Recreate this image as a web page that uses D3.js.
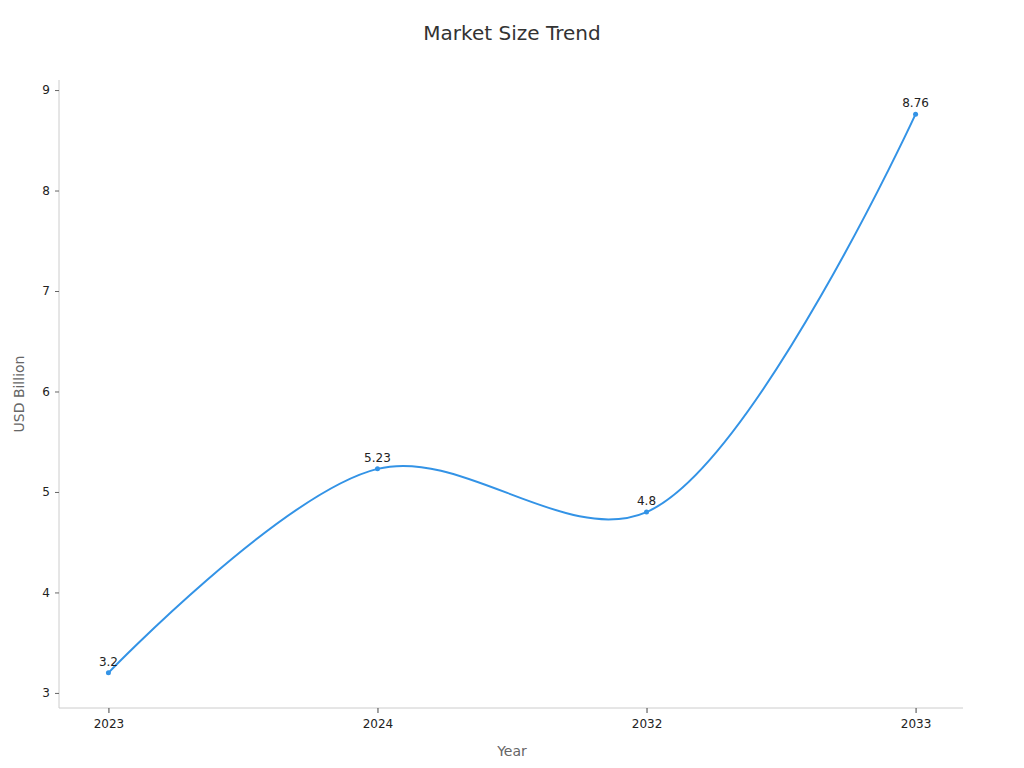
<!DOCTYPE html>
<html><head><meta charset="utf-8">
<script src="https://cdn.jsdelivr.net/npm/d3@7"></script>
<style>body{margin:0;background:#fff;} text{font-family:"DejaVu Sans",sans-serif;}</style>
</head><body>
<svg id="chart" width="1024" height="768"></svg>
<script>
const categories = ["2023", "2024", "2032", "2033"];
const values = [3.2, 5.23, 4.8, 8.76];
const yTicks = [3, 4, 5, 6, 7, 8, 9];
const title = "Market Size Trend";
const xTitle = "Year";
const yTitle = "USD Billion";

const svg = d3.select("#chart");
const mLeft = 59, mRight = 963, mTop = 80, mBottom = 708;

const x = d3.scalePoint().domain(categories).range([mLeft + 1, mRight + 1]).padding(0.18);
const y = d3.scaleLinear().domain([2.85, 9.1]).range([mBottom, mTop]);

// axes
const yAxis = svg.append("g").attr("transform", `translate(${mLeft},0)`)
  .call(d3.axisLeft(y).tickValues(yTicks).tickSize(4).tickPadding(5).tickFormat(d3.format("d")));
yAxis.select(".domain").attr("stroke", "#ccc").attr("d", `M0,${mTop}V${mBottom}`);
yAxis.selectAll(".tick line").attr("stroke", "#666");
yAxis.selectAll(".tick text").attr("font-size", 12).attr("fill", "#222");

const xAxis = svg.append("g").attr("transform", `translate(0,${mBottom})`)
  .call(d3.axisBottom(x).tickSize(5).tickPadding(6));
xAxis.select(".domain").attr("stroke", "#ccc").attr("d", `M${mLeft},0H${mRight}`);
xAxis.selectAll(".tick line").attr("stroke", "#444");
xAxis.selectAll(".tick text").attr("font-size", 12).attr("fill", "#222");

// titles
svg.append("text").attr("x", 512).attr("y", 40).attr("text-anchor", "middle")
  .attr("font-size", 20).attr("fill", "#333").text(title);
svg.append("text").attr("x", 512).attr("y", 756).attr("text-anchor", "middle")
  .attr("font-size", 14).attr("fill", "#666").text(xTitle);
svg.append("text").attr("transform", `translate(24,${(mTop+mBottom)/2}) rotate(-90)`)
  .attr("text-anchor", "middle").attr("font-size", 14).attr("fill", "#666").text(yTitle);

// line
const data = categories.map((c, i) => ({c, v: values[i]}));
const line = d3.line().x(d => x(d.c)).y(d => y(d.v)).curve(d3.curveCatmullRom.alpha(0.5));
svg.append("path").datum(data).attr("d", line).attr("fill", "none")
  .attr("stroke", "#3393e6").attr("stroke-width", 2);

svg.selectAll("circle.pt").data(data).enter().append("circle")
  .attr("cx", d => x(d.c)).attr("cy", d => y(d.v)).attr("r", 2.5).attr("fill", "#3393e6");

svg.selectAll("text.lbl").data(data).enter().append("text")
  .attr("x", d => x(d.c)).attr("y", d => y(d.v) - 7).attr("text-anchor", "middle")
  .attr("font-size", 12).attr("fill", "#222").text(d => d.v);
</script>
</body></html>
